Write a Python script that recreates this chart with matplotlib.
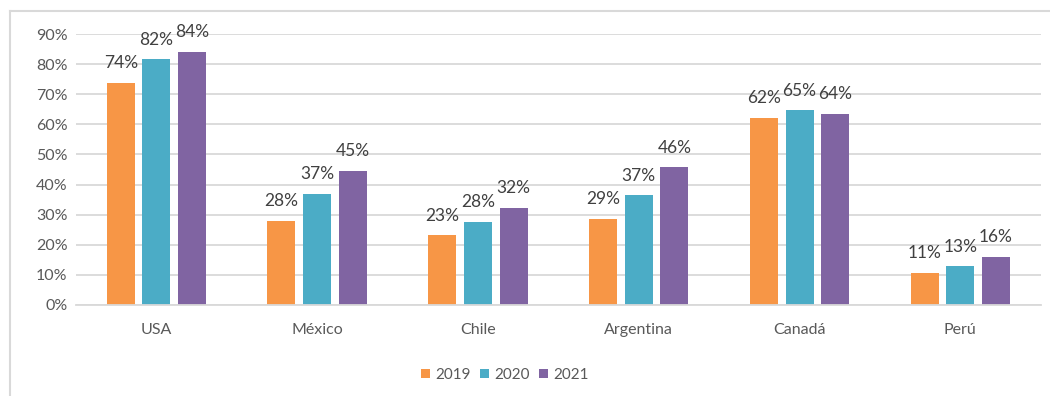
import matplotlib
matplotlib.use("Agg")
import matplotlib.pyplot as plt
import numpy as np
from matplotlib.lines import Line2D

plt.rcParams['font.family'] = ['Lato', 'DejaVu Sans']

categories = ["USA", "México", "Chile", "Argentina", "Canadá", "Perú"]
series_names = ["2019", "2020", "2021"]
v2019 = [73.7, 28.0, 23.2, 28.7, 62.1, 10.6]
v2020 = [81.6, 37.0, 27.6, 36.5, 64.7, 12.9]
v2021 = [84.1, 44.5, 32.2, 45.8, 63.5, 16.0]
labels2019 = ["74%", "28%", "23%", "29%", "62%", "11%"]
labels2020 = ["82%", "37%", "28%", "37%", "65%", "13%"]
labels2021 = ["84%", "45%", "32%", "46%", "64%", "16%"]
yticks = [0, 10, 20, 30, 40, 50, 60, 70, 80, 90]
ytick_labels = ["0%", "10%", "20%", "30%", "40%", "50%", "60%", "70%", "80%", "90%"]

colors = ["#F79646", "#4BACC6", "#8064A2"]

W, H = 1050, 396
fig = plt.figure(figsize=(W / 100, H / 100), dpi=100)
ax = fig.add_axes([76 / W, 1 - 305 / H, (1040.7 - 76) / W, (305 - 34) / H])

x = np.arange(len(categories))
bw = 0.174
step = 0.222
series = [v2019, v2020, v2021]
labels = [labels2019, labels2020, labels2021]
handles = []
for i, (vals, labs, c, name) in enumerate(zip(series, labels, colors, series_names)):
    pos = x + (i - 1) * step
    bars = ax.bar(pos, vals, width=bw, color=c, label=name, zorder=3)
    handles.append(bars)
    for px, v, lab in zip(pos, vals, labs):
        ax.annotate(lab, (px, v), xytext=(0, 10.5), textcoords="offset points",
                    ha="center", va="baseline", fontsize=12.5, color="#404040")

ax.set_xlim(-0.5, len(categories) - 0.5)
ax.set_ylim(0, 90)
ax.set_yticks(yticks)
ax.set_yticklabels(ytick_labels)
ax.set_xticks(x)
ax.set_xticklabels(categories)
ax.tick_params(axis="both", length=0, colors="#595959", labelsize=11.5)
ax.tick_params(axis="y", pad=6)
ax.tick_params(axis="x", pad=13)
ax.yaxis.grid(True, color="#D9D9D9", linewidth=1.3, zorder=0)
for s in ["top", "right", "left"]:
    ax.spines[s].set_visible(False)
ax.spines["bottom"].set_color("#D9D9D9")
ax.spines["bottom"].set_linewidth(1.3)
ax.spines["bottom"].set_zorder(4)

fig.legend(handles=handles, labels=series_names, loc="center",
           bbox_to_anchor=(505 / W, 1 - 375 / H), ncol=3, frameon=False,
           fontsize=11, handlelength=0.6, handleheight=0.6,
           handletextpad=0.35, columnspacing=0.6, labelcolor="#595959")

# chart frame (partially visible)
fig.add_artist(Line2D([10 / W, 10 / W], [1 - 11 / H, -0.05], color="#D9D9D9",
                      linewidth=1.5, transform=fig.transFigure))
fig.add_artist(Line2D([10 / W, 1.05], [1 - 11 / H, 1 - 11 / H], color="#D9D9D9",
                      linewidth=1.5, transform=fig.transFigure))

fig.savefig("out.png", dpi=100)
